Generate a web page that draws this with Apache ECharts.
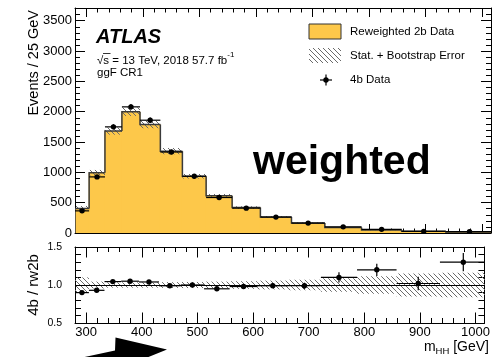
<!DOCTYPE html>
<html>
<head>
<meta charset="utf-8">
<script src="https://cdn.jsdelivr.net/npm/echarts@6/dist/echarts.min.js"></script>
<style>
html, body { margin: 0; padding: 0; background: #fff; }
#main { width: 493px; height: 357px; }
</style>
</head>
<body>
<div id="main"></div>
<script>
// m_HH bin edges [GeV]
var binEdges = [280, 305, 333, 363, 395, 431, 470, 512, 558, 608, 663, 722, 787, 858, 936, 1020];
// reweighted 2b prediction and its relative stat + bootstrap error
var rw2b = [405, 995, 1680, 2000, 1790, 1350, 935, 615, 420, 265, 165, 92, 50, 27, 18];
var rw2bRelErr = [0.1, 0.045, 0.035, 0.035, 0.035, 0.038, 0.04, 0.045, 0.05, 0.058, 0.07, 0.09, 0.115, 0.15, 0.16];
// 4b data
var data4b = [365, 925, 1750, 2080, 1860, 1335, 935, 585, 410, 262, 163, 101, 60, 27.5, 23.4];
var data4bErr = [19, 30, 42, 46, 43, 37, 31, 24, 20, 16, 13, 10, 8, 5, 5];
// ratio 4b / rw2b
var ratio = [0.9, 0.93, 1.045, 1.05, 1.04, 0.99, 1.0, 0.95, 0.98, 0.99, 0.99, 1.1, 1.2, 1.02, 1.3];
var ratioErr = [0.02, 0.015, 0.012, 0.012, 0.012, 0.014, 0.016, 0.02, 0.025, 0.03, 0.04, 0.067, 0.08, 0.09, 0.12];

var xTicks = [300, 400, 500, 600, 700, 800, 900, 1000];
var yTicksTop = [0, 500, 1000, 1500, 2000, 2500, 3000, 3500];
var yTicksRatio = [0.5, 1.0, 1.5];

var yellow = '#fdc84a';
var font = 'Liberation Sans';

function steps(from, to, step) {
    var out = [];
    for (var v = from; v <= to + 1e-9; v += step) out.push(Math.round(v * 1000) / 1000);
    return out;
}

function hatch() {
    var c = document.createElement('canvas');
    c.width = 5; c.height = 5;
    var ctx = c.getContext('2d');
    ctx.strokeStyle = '#6a6a6a';
    ctx.lineWidth = 1;
    ctx.beginPath();
    ctx.moveTo(-1, -1); ctx.lineTo(6, 6);
    ctx.moveTo(-1, 4); ctx.lineTo(1, 6);
    ctx.moveTo(4, -1); ctx.lineTo(6, 1);
    ctx.stroke();
    return { image: c, repeat: 'repeat' };
}
var hatchFill = hatch();

// 4 axes per side pair: major + minor ticks, both sides, ticks pointing in
function frameAxes(dim, gridIndex, min, max, majors, minors, majorLen, minorLen, label) {
    var sides = dim === 'x' ? ['bottom', 'top'] : ['left', 'right'];
    var list = [];
    sides.forEach(function (side, i) {
        [majors, minors].forEach(function (ticks, j) {
            list.push({
                type: 'value', gridIndex: gridIndex, position: side, min: min, max: max,
                axisLine: { show: j === 0, onZero: false, lineStyle: { color: '#000', width: 1 } },
                axisTick: { show: true, inside: true, customValues: ticks, length: j === 0 ? majorLen : minorLen,
                    lineStyle: { color: '#000', width: 1 } },
                axisLabel: (i === 0 && j === 0 && label) ? Object.assign({ customValues: ticks }, label) : { show: false },
                splitLine: { show: false }
            });
        });
    });
    return list;
}

function bins(values, extra) {
    var out = [];
    for (var i = 0; i < values.length; i++) {
        out.push([binEdges[i], binEdges[i + 1], values[i], extra ? extra[i] : 0, i > 0 ? values[i - 1] : 0]);
    }
    return out;
}

function renderFill(params, api) {
    var a = api.coord([api.value(0), 0]);
    var b = api.coord([api.value(1), api.value(2)]);
    // small overlap so neighbouring bins leave no seam
    return { type: 'rect', shape: { x: a[0] - 0.5, y: b[1], width: b[0] - a[0] + 1, height: a[1] - b[1] },
        style: { fill: yellow } };
}

function renderOutline(params, api) {
    var p0 = api.coord([api.value(0), api.value(4)]);
    var p1 = api.coord([api.value(0), api.value(2)]);
    var p2 = api.coord([api.value(1), api.value(2)]);
    return { type: 'polyline', shape: { points: [p0, p1, p2] },
        style: { stroke: '#3a3a3a', lineWidth: 1.5, fill: null } };
}

function renderBand(params, api) {
    var c = api.value(2), e = api.value(3);
    var a = api.coord([api.value(0), c * (1 - e)]);
    var b = api.coord([api.value(1), c * (1 + e)]);
    return { type: 'rect', shape: { x: a[0], y: b[1], width: b[0] - a[0], height: a[1] - b[1] },
        style: { fill: hatchFill } };
}

function renderPoint(params, api) {
    var lo = api.value(0), hi = api.value(1), v = api.value(2), e = api.value(3);
    var mid = (lo + hi) / 2;
    var l = api.coord([lo, v]), r = api.coord([hi, v]);
    var c = api.coord([mid, v]);
    var up = api.coord([mid, v + e]), dn = api.coord([mid, v - e]);
    return { type: 'group', children: [
        { type: 'line', shape: { x1: l[0], y1: l[1], x2: r[0], y2: r[1] }, style: { stroke: '#000', lineWidth: 1.2 } },
        { type: 'line', shape: { x1: up[0], y1: up[1], x2: dn[0], y2: dn[1] }, style: { stroke: '#000', lineWidth: 1.2 } },
        { type: 'circle', shape: { cx: c[0], cy: c[1], r: 2.7 }, style: { fill: '#000' } }
    ] };
}

function drawChart() {
    var xMin = 280, xMax = 1016;
    var xMinor = steps(280, 1016, 20);
    var plain = function (v) { return String(v); };
    var xAxes = frameAxes('x', 0, xMin, xMax, xTicks, xMinor, 9, 4.5, null)
        .concat(frameAxes('x', 1, xMin, xMax, xTicks, xMinor, 10.5, 5,
            { color: '#000', fontSize: 13, fontFamily: font, margin: 3, formatter: plain }));
    var yAxes = frameAxes('y', 0, 0, 3710, yTicksTop, steps(0, 3700, 100), 10, 5,
            { color: '#000', fontSize: 13, fontFamily: font, margin: 3, formatter: plain })
        .concat(frameAxes('y', 1, 0.5, 1.5, yTicksRatio, steps(0.5, 1.5, 0.1), 11, 6,
            { color: '#000', fontSize: 10.5, fontFamily: font, margin: 13,
              formatter: function (v) { return v.toFixed(1); } }));

    var option = {
        animation: false,
        grid: [
            { left: 75, right: 2, top: 8, height: 225 },
            { left: 75, right: 2, top: 247, height: 76 }
        ],
        xAxis: xAxes,
        yAxis: yAxes,
        series: [
            { type: 'custom', name: 'Reweighted 2b Data', xAxisIndex: 0, yAxisIndex: 0, clip: true,
              renderItem: renderFill, data: bins(rw2b), z: 1 },
            { type: 'custom', name: 'Stat. + Bootstrap Error', xAxisIndex: 0, yAxisIndex: 0, clip: true,
              renderItem: renderBand, data: bins(rw2b, rw2bRelErr), z: 2 },
            { type: 'custom', xAxisIndex: 0, yAxisIndex: 0, clip: true,
              renderItem: renderOutline, data: bins(rw2b), z: 3 },
            { type: 'custom', name: '4b Data', xAxisIndex: 0, yAxisIndex: 0, clip: true,
              renderItem: renderPoint, data: bins(data4b, data4bErr), z: 4 },
            { type: 'custom', xAxisIndex: 4, yAxisIndex: 4, clip: true,
              renderItem: renderBand, data: bins(rw2b.map(function () { return 1; }), rw2bRelErr), z: 2,
              markLine: { silent: true, symbol: 'none', label: { show: false },
                  lineStyle: { color: '#000', type: 'solid', width: 1.2 }, data: [{ yAxis: 1 }] } },
            { type: 'custom', xAxisIndex: 4, yAxisIndex: 4, clip: true,
              renderItem: renderPoint, data: bins(ratio, ratioErr), z: 4 }
        ],
        graphic: [
            // axis titles
            { type: 'text', x: 34, y: 10, rotation: Math.PI / 2,
              style: { text: 'Events / 25 GeV', fontSize: 14.5, fontFamily: font, fill: '#000', align: 'right', verticalAlign: 'middle' } },
            { type: 'text', x: 34, y: 285, rotation: Math.PI / 2,
              style: { text: '4b / rw2b', fontSize: 15, fontFamily: font, fill: '#000', align: 'center', verticalAlign: 'middle' } },
            { type: 'text', x: 489, y: 347,
              style: { text: '{m|m}{s|HH}{m| [GeV]}', align: 'right', verticalAlign: 'middle', fill: '#000',
                  rich: { m: { fontSize: 14, fontFamily: font, lineHeight: 18, verticalAlign: 'middle' },
                          s: { fontSize: 9.5, fontFamily: font, verticalAlign: 'bottom', lineHeight: 12 } } } },
            // ATLAS label
            { type: 'text', x: 96, y: 37,
              style: { text: 'ATLAS', fontSize: 20, fontWeight: 'bold', fontStyle: 'italic', fontFamily: font, fill: '#000', verticalAlign: 'middle' } },
            { type: 'text', x: 97, y: 59,
              style: { text: '{t|\u221As = 13 TeV, 2018 57.7 fb}{u|-1}', verticalAlign: 'middle', fill: '#000',
                  rich: { t: { fontSize: 11.5, fontFamily: font, lineHeight: 16, verticalAlign: 'bottom' },
                          u: { fontSize: 8, fontFamily: font, verticalAlign: 'top', lineHeight: 10 } } } },
            { type: 'line', shape: { x1: 103, y1: 53.5, x2: 110.5, y2: 53.5 }, style: { stroke: '#000', lineWidth: 0.8 } },
            { type: 'text', x: 97, y: 73,
              style: { text: 'ggF CR1', fontSize: 11.5, fontFamily: font, fill: '#000', verticalAlign: 'middle' } },
            // legend
            { type: 'rect', shape: { x: 309, y: 24, width: 32, height: 15 }, style: { fill: yellow, stroke: '#333', lineWidth: 1 } },
            { type: 'text', x: 350, y: 32,
              style: { text: 'Reweighted 2b Data', fontSize: 11.5, fontFamily: font, fill: '#000', verticalAlign: 'middle' } },
            { type: 'rect', shape: { x: 309, y: 48, width: 32, height: 15 }, style: { fill: hatchFill } },
            { type: 'text', x: 350, y: 56,
              style: { text: 'Stat. + Bootstrap Error', fontSize: 11.5, fontFamily: font, fill: '#000', verticalAlign: 'middle' } },
            { type: 'line', shape: { x1: 320, y1: 80, x2: 332, y2: 80 }, style: { stroke: '#000', lineWidth: 1.2 } },
            { type: 'line', shape: { x1: 326, y1: 74.5, x2: 326, y2: 85.5 }, style: { stroke: '#000', lineWidth: 1.2 } },
            { type: 'circle', shape: { cx: 326, cy: 80, r: 2.7 }, style: { fill: '#000' } },
            { type: 'text', x: 350, y: 80,
              style: { text: '4b Data', fontSize: 11.5, fontFamily: font, fill: '#000', verticalAlign: 'middle' } },
            // overlay text and arrow
            { type: 'text', x: 253, y: 163, z: 100,
              style: { text: 'weighted', fontSize: 41, fontWeight: 'bold', fontFamily: font, fill: '#000', verticalAlign: 'middle' } },
            { type: 'polygon', z: 100,
              shape: { points: [[80, 358], [115, 350.5], [115.5, 337.5], [167, 349.5], [146, 358]] },
              style: { fill: '#000' } }
        ]
    };

    var myChart = echarts.init(document.getElementById('main'));
    myChart.setOption(option, true);
}

drawChart();
</script>
</body>
</html>
